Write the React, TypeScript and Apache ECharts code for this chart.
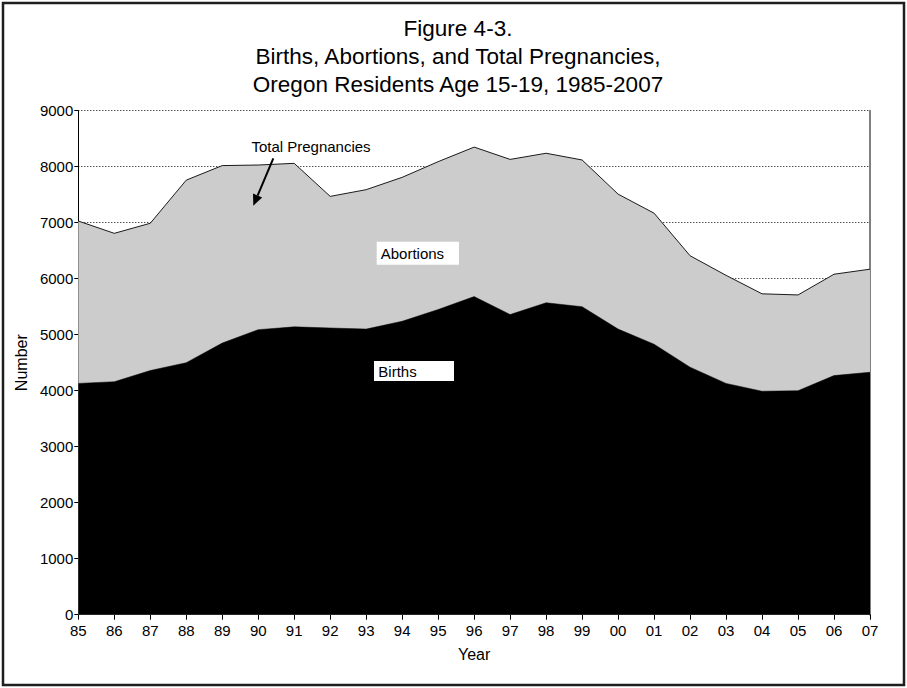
import React, { useEffect, useRef } from "react";
import * as echarts from "echarts";

const years = ["85","86","87","88","89","90","91","92","93","94","95","96","97","98","99","00","01","02","03","04","05","06","07"];
const totalPregnancies = [7030, 6810, 6990, 7760, 8020, 8030, 8060, 7470, 7590, 7810, 8090, 8350, 8130, 8240, 8120, 7510, 7170, 6410, 6060, 5730, 5710, 6080, 6170];
const births = [4130, 4160, 4360, 4500, 4850, 5090, 5140, 5120, 5100, 5240, 5450, 5680, 5360, 5570, 5500, 5100, 4830, 4420, 4130, 3990, 4000, 4270, 4330];
const titleLines = ["Figure 4-3.", "Births, Abortions, and Total Pregnancies,", "Oregon Residents Age 15-19, 1985-2007"];

const FONT = "'Liberation Sans', Arial, sans-serif";

export default function App() {
  const ref = useRef<HTMLDivElement>(null);
  useEffect(() => {
    if (!ref.current) return;
    const chart = echarts.init(ref.current, null, { renderer: "svg" });
    chart.setOption({
      animation: false,
      backgroundColor: "#ffffff",
      textStyle: { fontFamily: FONT },
      title: {
        text: titleLines.join("\n"),
        top: 9,
        left: 453,
        textAlign: "center",
        textStyle: { fontFamily: FONT, fontSize: 22.5, fontWeight: "normal", color: "#000", lineHeight: 28 },
      },
      grid: { left: 78.3, right: 37, top: 110.7, bottom: 73.3, containLabel: false },
      xAxis: {
        type: "category",
        data: years,
        boundaryGap: false,
        name: "Year",
        nameLocation: "middle",
        nameGap: 32,
        nameTextStyle: { fontFamily: FONT, fontSize: 16, color: "#000" },
        axisLine: { show: true, lineStyle: { color: "#000", width: 1 } },
        axisTick: { show: true, length: 5, alignWithLabel: true, lineStyle: { color: "#000" } },
        axisLabel: { fontFamily: FONT, fontSize: 15, color: "#000", margin: 8 },
        splitLine: { show: false },
      },
      yAxis: [
        {
          type: "value",
          min: 0,
          max: 9000,
          interval: 1000,
          name: "Number",
          nameLocation: "middle",
          nameRotate: 90,
          nameGap: 42,
          nameTextStyle: { fontFamily: FONT, fontSize: 16, color: "#000" },
          axisLine: { show: true, lineStyle: { color: "#000", width: 1 } },
          axisTick: { show: true, length: 4, lineStyle: { color: "#000" } },
          axisLabel: { fontFamily: FONT, fontSize: 15, color: "#000", margin: 5, formatter: (v: number) => String(v) },
          splitLine: { show: true, lineStyle: { color: "#000", type: [1, 2], width: 1 } },
        },
        {
          type: "value",
          min: 0,
          max: 9000,
          interval: 1000,
          position: "right",
          axisLine: { show: true, lineStyle: { color: "#808080", width: 2 } },
          axisTick: { show: false },
          axisLabel: { show: false },
          splitLine: { show: false },
        },
      ],
      series: [
        {
          name: "Total Pregnancies",
          type: "line",
          data: totalPregnancies,
          symbol: "none",
          z: 2,
          lineStyle: { color: "#1a1a1a", width: 1 },
          areaStyle: { color: "#cccccc", opacity: 1 },
        },
        {
          name: "Births",
          type: "line",
          data: births,
          symbol: "none",
          z: 3,
          lineStyle: { color: "#000", width: 0.5 },
          areaStyle: { color: "#000000", opacity: 1 },
        },
      ],
      graphic: [
        {
          type: "rect",
          shape: { x: 3, y: 3, width: 901, height: 682 },
          style: { fill: "none", stroke: "#1e1e1e", lineWidth: 2.5 },
          z: 100,
        },
        {
          type: "text",
          x: 311,
          y: 146.7,
          style: { text: "Total Pregnancies", font: `15px ${FONT}`, fill: "#000", align: "center", verticalAlign: "middle" },
          z: 100,
        },
        {
          type: "line",
          shape: { x1: 273.3, y1: 158.3, x2: 257.6, y2: 195.6 },
          style: { stroke: "#000", lineWidth: 2 },
          z: 100,
        },
        {
          type: "polygon",
          shape: { points: [[253.3, 205.7], [262.2, 197.5], [253.0, 193.6]] },
          style: { fill: "#000" },
          z: 100,
        },
        {
          type: "rect",
          shape: { x: 376.7, y: 241.7, width: 82.3, height: 23 },
          style: { fill: "#fff" },
          z: 100,
        },
        {
          type: "text",
          x: 380.7,
          y: 253.2,
          style: { text: "Abortions", font: `15px ${FONT}`, fill: "#000", align: "left", verticalAlign: "middle" },
          z: 101,
        },
        {
          type: "rect",
          shape: { x: 374, y: 361, width: 80, height: 20 },
          style: { fill: "#fff" },
          z: 100,
        },
        {
          type: "text",
          x: 378.3,
          y: 371,
          style: { text: "Births", font: `15px ${FONT}`, fill: "#000", align: "left", verticalAlign: "middle" },
          z: 101,
        },
      ],
    });
    return () => chart.dispose();
  }, []);
  return <div ref={ref} style={{ position: "fixed", left: 0, top: 0, width: 907, height: 688 }} />;
}
